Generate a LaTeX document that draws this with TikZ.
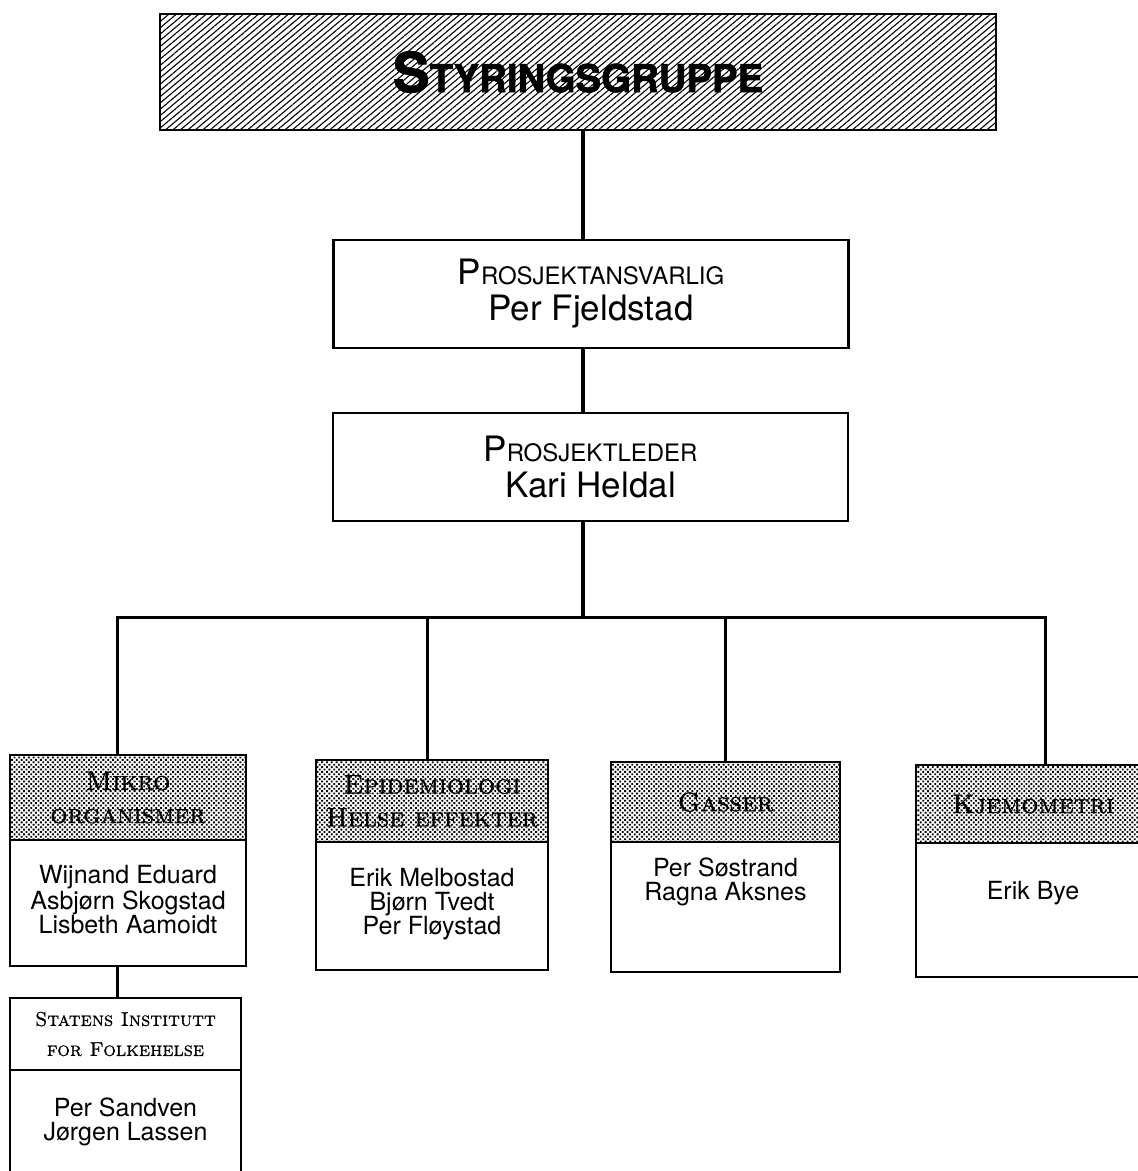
\documentclass[tikz,border=0pt]{standalone}
\usepackage{fontspec}
\usepackage{tikz}
\usetikzlibrary{positioning,patterns.meta}
\newfontfamily\helv{TeX Gyre Heros}
\newfontfamily\helvblack{texgyreheros-bold.otf}[FakeBold=1.5]
\newfontfamily\headrm{lmroman10-regular.otf}[FakeBold=0.8,
  SmallCapsFont=lmromancaps10-regular.otf,SmallCapsFeatures={FakeBold=0.8}]

\begin{document}
\begin{tikzpicture}[x=0.5pt,y=-0.5pt,line width=1.4pt,
  every node/.style={inner sep=0pt,outer sep=0pt,align=center},
  hatchbox/.style={draw,pattern={Lines[angle=40,distance=2.4pt,line width=0.55pt]},font=\helvblack},
  rolebox/.style={draw,fill=white,font=\fontsize{12}{18}\helv,minimum width=257.5pt,minimum height=54pt},
  grouphead/.style={draw,pattern={Dots[distance=1.7pt,radius=0.65pt,angle=45]},font=\fontsize{13.5}{16.5}\headrm},
  groupbody/.style={draw,fill=white},
  names/.style={font=\fontsize{12.5}{12}\helv},
  link/.style={line width=1.5pt},
  trunk/.style={line width=2pt}]
  \useasboundingbox (0,0) rectangle (1138,1171);
  \clip (0,0) rectangle (1138,1171);
  % connectors
  \coordinate (spine) at (583,0);
  \coordinate (busL) at (117,617);
  \coordinate (busR) at (1045,617);
  \coordinate (dropE) at (427,617);
  \coordinate (dropG) at (725,617);
  % top of the chart
  \node[hatchbox,minimum width=418pt,minimum height=58pt] (styr) at (578,72)
    {\fontsize{27.5}{27}\selectfont S\fontsize{19.2}{27}\selectfont TYRINGSGRUPPE};
  \node[rolebox] (ansv) at (591,294)
    {{\fontsize{17.5}{18}\selectfont P}ROSJEKTANSVARLIG\\{\fontsize{17.5}{18}\selectfont Per Fjeldstad}};
  \node[rolebox] (leder) at (590.5,467)
    {{\fontsize{17.5}{18}\selectfont P}ROSJEKTLEDER\\{\fontsize{17.5}{18}\selectfont Kari Heldal}};
  \draw[trunk] (spine |- styr.south) -- (spine |- ansv.north);
  \draw[trunk] (spine |- ansv.south) -- (spine |- leder.north);
  \draw[trunk] (spine |- leder.south) -- (spine |- busL);
  % groups
  \node[grouphead,minimum width=118pt,minimum height=42.5pt] (mikroH) at (128,797.5)
    {\textsc{Mikro}\\\textsc{organismer}};
  \node[groupbody,minimum width=118pt,minimum height=63pt,below=0pt of mikroH] (mikroB) {};
  \node[names,below=12.5pt of mikroB.north] (mikroN) {Wijnand Eduard\\Asbjørn Skogstad\\Lisbeth Aamoidt};

  \node[grouphead,minimum width=116pt,minimum height=41pt] (epiH) at (432,801)
    {\textsc{Epidemiologi}\\\textsc{Helse effekter}};
  \node[groupbody,minimum width=116pt,minimum height=64pt,below=0pt of epiH] (epiB) {};
  \node[names,below=13pt of epiB.north] (epiN) {Erik Melbostad\\Bjørn Tvedt\\Per Fløystad};

  \node[grouphead,minimum width=114.5pt,minimum height=40pt] (gasH) at (725.5,802)
    {\textsc{Gasser}};
  \node[groupbody,minimum width=114.5pt,minimum height=65pt,below=0pt of gasH] (gasB) {};
  \node[names,below=8pt of gasB.north] (gasN) {Per Søstrand\\Ragna Aksnes};

  \node[grouphead,minimum width=117pt,minimum height=39pt] (kjemH) at (1033,804)
    {\textsc{Kjemometri}};
  \node[groupbody,minimum width=117pt,minimum height=67pt,below=0pt of kjemH] (kjemB) {};
  \node[names,below=19pt of kjemB.north] (kjemN) {Erik Bye};

  \node[draw,fill=white,minimum width=115.5pt,minimum height=36pt,font=\fontsize{10}{15}\headrm] (statH) at (125.5,1034)
    {\textsc{Statens Institutt}\\\textsc{for Folkehelse}};
  \node[groupbody,minimum width=115.5pt,minimum height=60pt,below=0pt of statH] (statB) {};
  \node[names,below=14pt of statB.north] (statN) {Per Sandven\\Jørgen Lassen};

  \draw[link] (busL |- mikroH.north) -- (busL) -- (busR) -- (busR |- kjemH.north);
  \draw[link] (dropE) -- (dropE |- epiH.north);
  \draw[link] (dropG) -- (dropG |- gasH.north);
  \draw[link] (busL |- mikroB.south) -- (busL |- statH.north);
\end{tikzpicture}
\end{document}
